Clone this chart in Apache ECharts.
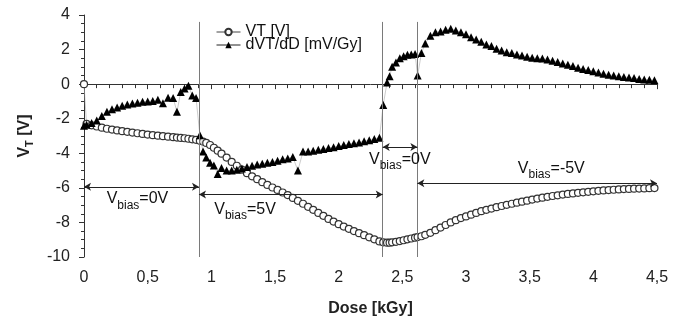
<!DOCTYPE html>
<html>
<head>
<meta charset="utf-8">
<script src="https://cdn.jsdelivr.net/npm/echarts@6/dist/echarts.min.js"></script>
<style>
  html, body { margin: 0; padding: 0; background: #fff; }
  #chart { width: 682px; height: 320px; }
</style>
</head>
<body>
<div id="chart"></div>
<script>
// dose [kGy]
const dose = [
  0, 0.02, 0.06, 0.10, 0.14, 0.18, 0.22, 0.26, 0.30, 0.34, 0.38, 0.42, 0.46, 0.50, 0.54, 0.58, 0.62, 0.66, 0.70, 0.73, 0.76, 0.79, 0.82, 0.85, 0.88,
  0.91, 0.935, 0.96, 0.99, 1.02, 1.05, 1.08, 1.12, 1.16, 1.20, 1.24, 1.28, 1.32, 1.36, 1.40, 1.44, 1.48, 1.52, 1.56, 1.60, 1.64, 1.68, 1.72, 1.76, 1.80, 1.84, 1.88, 1.92, 1.96, 2.00, 2.04, 2.08, 2.12, 2.16, 2.20, 2.24, 2.28, 2.32,
  2.35, 2.38, 2.40, 2.42, 2.45, 2.48, 2.51, 2.54, 2.57, 2.60,
  2.62, 2.65, 2.68, 2.72, 2.76, 2.80, 2.84, 2.88, 2.92, 2.96, 3.00, 3.04, 3.08, 3.12, 3.16, 3.20, 3.24, 3.28, 3.32, 3.36, 3.40, 3.44, 3.48, 3.52, 3.56, 3.60, 3.64, 3.68, 3.72, 3.76, 3.80, 3.84, 3.88, 3.92, 3.96, 4.00, 4.04, 4.08, 4.12, 4.16, 4.20, 4.24, 4.28, 4.32, 4.36, 4.40, 4.44, 4.48
];
// VT [V]
const vt = [
  0, -2.3, -2.38, -2.45, -2.52, -2.58, -2.63, -2.68, -2.72, -2.76, -2.8, -2.84, -2.88, -2.92, -2.95, -2.98, -3.01, -3.04, -3.07, -3.09, -3.11, -3.13, -3.16, -3.19, -3.22,
  -3.28, -3.32, -3.4, -3.52, -3.68, -3.85, -4.02, -4.25, -4.5, -4.72, -4.95, -5.15, -5.33, -5.5, -5.67, -5.83, -5.98, -6.12, -6.27, -6.42, -6.58, -6.75, -6.92, -7.1, -7.27, -7.45, -7.62, -7.8, -7.95, -8.1, -8.24, -8.37, -8.5, -8.62, -8.74, -8.86, -8.98, -9.1,
  -9.15, -9.17, -9.17, -9.15, -9.12, -9.08, -9.03, -8.98, -8.93, -8.88,
  -8.85, -8.8, -8.72, -8.6, -8.45, -8.3, -8.15, -8.0, -7.87, -7.75, -7.65, -7.55, -7.45, -7.35, -7.27, -7.2, -7.12, -7.05, -6.98, -6.92, -6.86, -6.8, -6.74, -6.68, -6.62, -6.57, -6.52, -6.47, -6.43, -6.39, -6.35, -6.32, -6.29, -6.26, -6.23, -6.2, -6.17, -6.15, -6.13, -6.11, -6.09, -6.07, -6.06, -6.05, -6.04, -6.03, -6.02, -6.01
];
// dVT/dD [mV/Gy]
const dvt = [
  -2.4, -2.35, -2.25, -2.1, -1.85, -1.6, -1.45, -1.35, -1.25, -1.18, -1.12, -1.08, -1.02, -1.0, -0.97, -0.9, -1.1, -0.78, -0.8, -1.6, -0.45, -0.25, -0.1, -0.65, -0.8,
  -2.95, -3.9, -4.25, -4.55, -4.7, -5.2, -4.85, -5.0, -5.0, -4.95, -4.88, -4.8, -4.72, -4.65, -4.6, -4.55, -4.5, -4.43, -4.35, -4.3, -4.22, -5.0, -3.9, -3.9, -3.85, -3.8, -3.75, -3.7, -3.65, -3.58, -3.52, -3.47, -3.42, -3.37, -3.3, -3.25, -3.18, -3.1,
  -1.2, 0.1, 0.45, 1.0, 1.25, 1.5, 1.62, 1.7, 1.72, 1.75,
  0.5, 1.8, 2.35, 2.8, 3.0, 3.05, 3.15, 3.2, 3.1, 3.0, 2.88, 2.72, 2.58, 2.45, 2.3, 2.2, 2.05, 1.95, 1.85, 1.8, 1.72, 1.65, 1.58, 1.52, 1.5, 1.48, 1.42, 1.35, 1.28, 1.2, 1.12, 1.05, 0.95, 0.88, 0.82, 0.75, 0.68, 0.6, 0.55, 0.5, 0.45, 0.42, 0.38, 0.35, 0.3, 0.27, 0.25, 0.22
];

// bias switching doses and the annotation arrows / labels
const biasEdges = [0.903, 2.346, 2.618];
const arrowStart = [0, 0.903, 2.346, 2.618];
const arrowEnd = [0.903, 2.346, 2.618, 4.5];
const arrowLevel = [-5.94, -6.38, -3.63, -5.74];
const biasText = ['=0V', '=5V', '=0V', '=-5V'];
const biasTextX = [0.42, 1.265, 2.48, 3.67];
const biasTextY = [-6.65, -7.23, -4.34, -4.86];

const FONT = '"Liberation Sans", Arial, sans-serif';
const comma = v => String(v).replace('.', ',');

const chart = echarts.init(document.getElementById('chart'));

const markLines = [];
biasEdges.forEach(x => {
  markLines.push([{ coord: [x, -10], symbol: 'none' }, { coord: [x, 3.6], symbol: 'none',
    lineStyle: { color: '#7a7a7a', width: 1, type: 'solid' } }]);
});
arrowStart.forEach((x0, i) => {
  markLines.push([{ coord: [x0, arrowLevel[i]] }, { coord: [arrowEnd[i], arrowLevel[i]],
    lineStyle: { color: '#222', width: 1, type: 'solid' } }]);
});

const markPoints = biasText.map((t, i) => ({
  coord: [biasTextX[i], biasTextY[i]],
  label: { formatter: '{a|V}{b|bias}{a|' + t + '}' }
}));

chart.setOption({
  animation: false,
  textStyle: { fontFamily: FONT },
  grid: { left: 84, right: 25, top: 15, bottom: 63, outerBoundsMode: 'none' },
  legend: {
    orient: 'vertical',
    left: 211,
    top: 19,
    itemGap: -3,
    itemWidth: 24,
    itemHeight: 8,
    textStyle: { fontSize: 16, color: '#111', fontFamily: FONT },
    data: [
      { name: 'VT [V]', lineStyle: { color: '#444', width: 1 } },
      { name: 'dVT/dD [mV/Gy]', lineStyle: { color: '#222', width: 1 } }
    ]
  },
  xAxis: {
    type: 'value',
    min: 0, max: 4.5, interval: 0.5,
    name: 'Dose [kGy]',
    nameLocation: 'middle',
    nameGap: 44,
    nameTextStyle: { fontSize: 16, fontWeight: 'bold', color: '#222' },
    axisLine: { lineStyle: { color: '#333', width: 1 } },
    axisTick: { inside: false, length: 5, lineStyle: { color: '#333' } },
    minorTick: { show: true, splitNumber: 5, length: 4, lineStyle: { color: '#333' } },
    splitLine: { show: false },
    axisLabel: { fontSize: 16, color: '#222', margin: 13, formatter: comma }
  },
  yAxis: {
    type: 'value',
    min: -10, max: 4, interval: 2,
    name: '{a|V}{b|T}{a| [V]}',
    nameLocation: 'middle',
    nameGap: 50,
    nameTextStyle: {
      rich: {
        a: { fontSize: 16, fontWeight: 'bold', color: '#222', lineHeight: 18, fontFamily: FONT },
        b: { fontSize: 11, fontWeight: 'bold', color: '#222', lineHeight: 12, padding: [10, 0, 0, 0], fontFamily: FONT }
      }
    },
    axisLine: { show: true, lineStyle: { color: '#333', width: 1 } },
    axisTick: { show: true, inside: false, length: 5, lineStyle: { color: '#333' } },
    minorTick: { show: true, splitNumber: 4, length: 3, lineStyle: { color: '#333' } },
    splitLine: { show: false },
    axisLabel: { fontSize: 16, color: '#222', margin: 14 }
  },
  series: [
    {
      name: 'VT [V]',
      type: 'line',
      data: dose.map((d, i) => [d, vt[i]]),
      symbol: 'circle',
      symbolSize: 7,
      itemStyle: { color: '#fff', borderColor: '#333', borderWidth: 1.2 },
      lineStyle: { color: '#aaa', width: 0.6 },
      z: 3
    },
    {
      name: 'dVT/dD [mV/Gy]',
      type: 'line',
      data: dose.map((d, i) => [d, dvt[i]]),
      symbol: 'triangle',
      symbolSize: 8,
      itemStyle: { color: '#000' },
      lineStyle: { color: '#aaa', width: 0.6 },
      z: 4
    },
    {
      name: 'annotations',
      type: 'line',
      data: [],
      clip: false,
      markLine: {
        silent: true,
        symbol: ['arrow', 'arrow'],
        symbolSize: [6, 7],
        label: { show: false },
        lineStyle: { color: '#222', width: 1, type: 'solid' },
        data: markLines
      },
      markPoint: {
        silent: true,
        symbol: 'circle',
        symbolSize: 0,
        label: {
          show: true,
          position: 'inside',
          rich: {
            a: { fontSize: 16, color: '#111', lineHeight: 16, fontFamily: FONT },
            b: { fontSize: 12, color: '#111', lineHeight: 14, padding: [13, 0, 0, 0], fontFamily: FONT }
          }
        },
        data: markPoints
      }
    }
  ]
});
</script>
</body>
</html>
